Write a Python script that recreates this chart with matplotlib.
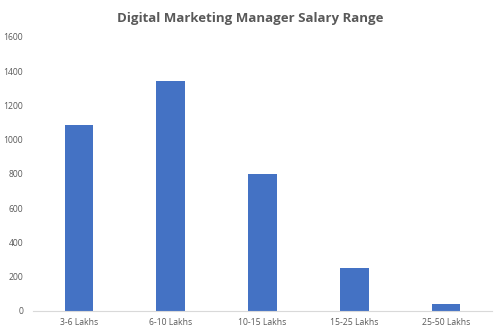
import matplotlib.pyplot as plt

categories = ["3-6 Lakhs", "6-10 Lakhs", "10-15 Lakhs", "15-25 Lakhs", "25-50 Lakhs"]
values = [1085, 1345, 800, 250, 40]
yticks = [0, 200, 400, 600, 800, 1000, 1200, 1400, 1600]

plt.rcParams['font.family'] = ['Open Sans', 'DejaVu Sans']

fig = plt.figure(figsize=(5, 3.32), dpi=100)
ax = fig.add_axes([0.066, 0.0633, 0.918, 0.8253])

x = range(len(categories))
ax.bar(x, values, width=0.31, color='#4472C4', zorder=2)

ax.set_xlim(-0.5, len(categories) - 0.5)
ax.set_ylim(0, 1600)
ax.set_yticks(yticks)
ax.set_yticklabels([str(t) for t in yticks])
ax.set_xticks(list(x))
ax.set_xticklabels(categories)

for s in ['top', 'right', 'left']:
    ax.spines[s].set_visible(False)
ax.spines['bottom'].set_color('#d9d9d9')
ax.tick_params(axis='both', length=0, labelsize=6.2, colors='#595959')
ax.tick_params(axis='y', pad=7)
ax.tick_params(axis='x', pad=5)

fig.text(0.5, 0.945, "Digital Marketing Manager Salary Range", ha='center', va='center',
         fontsize=9.5, fontweight='bold', color='#595959')

fig.savefig('out.png', dpi=100)
